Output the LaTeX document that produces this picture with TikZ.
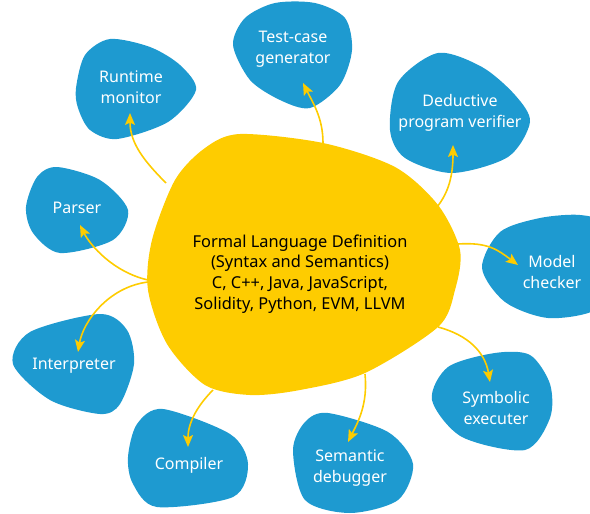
\documentclass[tikz,border=0pt]{standalone}
\usepackage{fontspec}
\setmainfont{Noto Sans}
\usetikzlibrary{arrows.meta}
\definecolor{blobyellow}{HTML}{FECC00}
\definecolor{blobblue}{HTML}{1E9AD0}

\begin{document}
\begin{tikzpicture}[x=1pt, y=-1pt]
\tikzset{
    %Define standard arrow tip
    >={Stealth[length=12pt,width=10pt,inset=2.5pt]},
    %Define style for the blobs
    kern/.style={fill=blobyellow},
    tool/.style={fill=blobblue},
    %Define style for the labels
    kerntext/.style={
           align=center,
           text=black,
           font=\fontsize{16.4}{20.7}\selectfont},
    tooltext/.style={
           align=center,
           text=white,
           font=\fontsize{16}{20.7}\selectfont},
    % Define arrow style
    pil/.style={
           ->,
           draw=blobyellow,
           line width=1.6pt}
}
\useasboundingbox (0,0) rectangle (590,514);
\clip (0,0) rectangle (590,514);

 %blobs
 \fill[kern] plot[smooth cycle] coordinates {(240,134) (323,143) (395,167) (438,205)
   (460,250) (455,290) (438,327) (365,373) (300,390) (250,395) (205,385) (167,344)
   (148,290) (152,240) (175,180) (205,148)};
 \fill[tool] plot[smooth cycle] coordinates {(76,88) (85,55) (110,39) (150,47)
   (180,65) (196,90) (168,122) (117,139) (90,130) (78,108)};
 \fill[tool] plot[smooth cycle] coordinates {(233,45) (245,18) (275,3) (315,3)
   (345,18) (352,50) (340,85) (310,108) (280,100) (250,80)};
 \fill[tool] plot[smooth cycle] coordinates {(390,130) (398,82) (438,53) (482,67)
   (515,95) (530,122) (508,157) (452,173) (405,158)};
 \fill[tool] plot[smooth cycle] coordinates {(482,268) (500,232) (540,218) (580,215)
   (600,225) (605,280) (595,310) (548,318) (505,302)};
 \fill[tool] plot[smooth cycle] coordinates {(432,400) (448,367) (495,353) (530,355)
   (550,384) (550,418) (525,450) (462,437)};
 \fill[tool] plot[smooth cycle] coordinates {(293,450) (305,422) (328,413) (388,432)
   (413,464) (398,500) (350,513) (305,500)};
 \fill[tool] plot[smooth cycle] coordinates {(128,457) (137,424) (163,409) (230,434)
   (248,464) (233,497) (157,507) (133,484)};
 \fill[tool] plot[smooth cycle] coordinates {(13,364) (30,332) (100,314) (127,330)
   (134,364) (120,404) (100,414) (50,400)};
 \fill[tool] plot[smooth cycle] coordinates {(26,207) (37,177) (57,167) (100,180)
   (128,210) (113,240) (60,253) (33,233)};

 %labels
 \node[kerntext] (kern) at (300,274) {Formal Language Definition\\(Syntax and Semantics)\\C, C++, Java, JavaScript,\\Solidity, Python, EVM, LLVM};
 \node[tooltext] (runtime) at (131,87) {Runtime\\monitor};
 \node[tooltext] (testcase) at (293,49) {Test-case\\generator};
 \node[tooltext] (deductive) at (460,113) {Deductive\\program verifier};
 \node[tooltext] (model) at (552,272) {Model\\checker};
 \node[tooltext] (symbolic) at (496,408) {Symbolic\\executer};
 \node[tooltext] (semantic) at (350,468) {Semantic\\debugger};
 \node[tooltext] (compiler) at (189,465) {Compiler};
 \node[tooltext] (interpreter) at (74,366) {Interpreter};
 \node[tooltext] (parser) at (77,208) {Parser};

 %arrow ends
 \coordinate (k-runtime) at (166,183);
 \coordinate (runtime-in) at (130,113);
 \coordinate (k-testcase) at (323,143);
 \coordinate (testcase-in) at (303,83);
 \coordinate (k-deductive) at (437,207);
 \coordinate (deductive-in) at (453,145);
 \coordinate (k-model) at (458,244);
 \coordinate (model-in) at (518,265);
 \coordinate (k-symbolic) at (438,327);
 \coordinate (symbolic-in) at (490,382);
 \coordinate (k-semantic) at (365,374);
 \coordinate (semantic-in) at (348,442);
 \coordinate (k-compiler) at (213,390);
 \coordinate (compiler-in) at (188,447);
 \coordinate (k-interpreter) at (148,282);
 \coordinate (interpreter-in) at (78,352);
 \coordinate (k-parser) at (148,280);
 \coordinate (parser-in) at (80,225);

 %arrows
 \draw[pil] (k-runtime) .. controls +(-22,-22) and +(0,30) .. (runtime-in);
 \draw[pil] (k-testcase) .. controls +(0,-25) and +(10,20) .. (testcase-in);
 \draw[pil] (k-deductive) .. controls +(12,-15) and +(0,30) .. (deductive-in);
 \draw[pil] (k-model) .. controls +(30,-2) and +(-20,-15) .. (model-in);
 \draw[pil] (k-symbolic) .. controls +(30,8) and +(-5,-30) .. (symbolic-in);
 \draw[pil] (k-semantic) .. controls +(3,30) and +(10,-20) .. (semantic-in);
 \draw[pil] (k-compiler) .. controls +(-15,15) and +(0,-25) .. (compiler-in);
 \draw[pil] (k-interpreter) .. controls +(-40,5) and +(5,-30) .. (interpreter-in);
 \draw[pil] (k-parser) .. controls +(-35,-8) and +(10,20) .. (parser-in);
\end{tikzpicture}
\end{document}
